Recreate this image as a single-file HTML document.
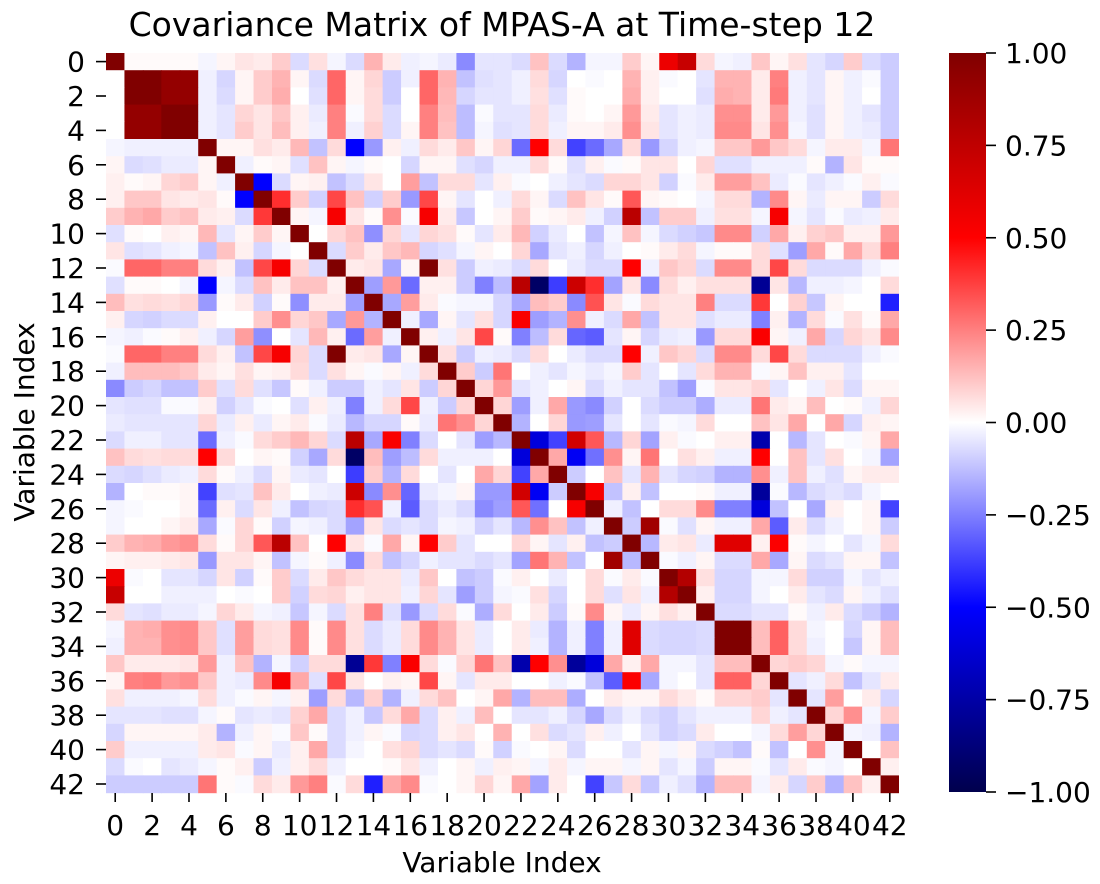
<!DOCTYPE html>
<html><head><meta charset="utf-8">
<style>
html,body{margin:0;padding:0;background:#fff;}
svg{display:block;font-family:"DejaVu Sans","Liberation Sans",sans-serif;}
</style></head>
<body>
<svg id="chart" width="1100" height="884" viewBox="0 0 1100 884" xmlns="http://www.w3.org/2000/svg">
<defs>
<linearGradient id="seis" x1="0" y1="1" x2="0" y2="0">
<stop offset="0" stop-color="rgb(0,0,77)"/>
<stop offset="0.25" stop-color="rgb(0,0,255)"/>
<stop offset="0.5" stop-color="rgb(255,255,255)"/>
<stop offset="0.75" stop-color="rgb(255,0,0)"/>
<stop offset="1" stop-color="rgb(128,0,0)"/>
</linearGradient>
</defs>
<text x="502" y="36" font-size="33" text-anchor="middle">Covariance Matrix of MPAS-A at Time-step 12</text>
<g id="cells"></g>
<g id="yticks"></g>
<g id="xticks"></g>
<text x="502" y="872" font-size="28" text-anchor="middle">Variable Index</text>
<text x="0" y="0" font-size="28" text-anchor="middle" transform="translate(34,422) rotate(-90)">Variable Index</text>
<rect x="949" y="53" width="37" height="739" fill="url(#seis)"/>
<g id="cbticks"></g>
</svg>
<script>
// upper rows 0..21, all 43 columns
const upperRows = [
[1,0.01,0.01,0.01,0.01,-0.02,0.02,0.05,0.04,0.1,-0.07,0.06,-0.02,-0.07,0.15,0.04,-0.03,-0.02,-0.04,-0.23,-0.05,-0.05,-0.07,0.12,-0.07,-0.15,-0.02,-0.02,0.1,0.02,0.57,0.72,0.07,-0.02,-0.03,0.11,0.02,0.06,-0.05,-0.08,0.1,-0.07,-0.1],
[0,1,1,0.92,0.92,-0.03,-0.08,0.02,0.1,0.15,0.02,-0.07,0.3,0.02,0.08,-0.1,-0.03,0.3,0.15,-0.12,-0.06,-0.05,-0.03,0.07,-0.08,0,-0.01,0,0.15,0.03,-0.01,0,-0.05,0.15,0.15,0.04,0.25,-0.03,-0.05,0.02,-0.03,-0.01,-0.1],
[0,1,1,0.92,0.92,-0.03,-0.07,0.02,0.1,0.16,0,-0.06,0.3,0.02,0.07,-0.1,0,0.3,0.14,-0.08,-0.05,-0.05,-0.03,0.06,-0.06,0.01,0,0,0.16,0.03,0,0,-0.06,0.16,0.15,0.04,0.26,-0.03,-0.05,0.02,-0.03,0,-0.1],
[0,0.92,0.92,1,1,-0.03,-0.05,0.08,0.05,0.11,0.03,-0.04,0.25,-0.01,0.07,-0.07,0,0.25,0.13,-0.13,-0.01,-0.05,-0.05,0.07,-0.04,0.01,0,0.02,0.2,0.04,-0.05,-0.03,-0.04,0.22,0.22,0.04,0.2,-0.03,-0.06,0.02,-0.03,-0.05,-0.1],
[0,0.92,0.92,1,1,-0.03,-0.05,0.1,0.05,0.13,0.03,-0.03,0.25,-0.03,0.09,-0.07,0.02,0.25,0.12,-0.13,-0.02,-0.06,-0.05,0.07,-0.03,0.02,0.02,0.04,0.22,0.05,-0.05,-0.03,-0.04,0.23,0.23,0.05,0.22,-0.02,-0.06,0.02,-0.03,-0.04,-0.1],
[-0.02,-0.03,-0.03,-0.03,-0.03,1,0.02,0.02,0.06,0.04,0.14,-0.12,0.07,-0.5,-0.2,0.03,-0.03,0.07,0.04,0.11,0.02,0.08,-0.29,0.5,0.07,-0.37,-0.29,-0.17,0.07,-0.2,-0.08,-0.03,-0.02,0.11,0.11,0.2,0.11,0.07,-0.02,0.04,0.04,-0.02,0.27],
[0.02,-0.07,-0.06,-0.04,-0.04,0.02,1,-0.03,0.01,0.02,-0.06,0.12,0.02,-0.02,0.01,0,-0.08,0.02,0.02,-0.06,-0.08,-0.03,-0.03,0.07,0.01,-0.06,0.03,-0.01,0.01,0.05,0.05,0,0.08,-0.06,-0.06,-0.03,-0.03,-0.03,0.01,-0.15,0.05,0.01,0.01],
[0.03,0.01,0.02,0.08,0.1,0.02,-0.03,1,-0.5,-0.07,0.02,0.03,-0.12,-0.07,0.05,0,0.19,-0.12,0.07,0.07,-0.05,0.03,-0.01,0,-0.03,-0.05,-0.07,0.08,0.08,0.05,-0.09,-0.01,0.04,0.19,0.19,0.12,-0.04,-0.01,-0.05,-0.03,-0.01,0.03,-0.01],
[0.03,0.11,0.11,0.05,0.04,0.05,0.01,-0.5,1,0.41,0.1,-0.09,0.36,0.12,-0.09,0.1,-0.2,0.36,0.02,-0.05,0,-0.03,0.07,0.02,-0.07,0.12,0.05,0.01,0.33,0.02,0.01,0,-0.02,0.07,0.07,-0.15,0.23,0.02,-0.04,0.02,0.02,-0.1,0.07],
[0.1,0.15,0.17,0.1,0.12,0.04,0.03,-0.07,0.39,1,0.02,-0.02,0.53,0.05,0.01,0.22,-0.01,0.53,0.04,-0.11,0,0.02,0.1,0.01,0.02,0.04,-0.03,-0.09,0.77,-0.12,0.1,0.1,-0.03,0.06,0.06,-0.02,0.53,-0.02,-0.05,-0.01,-0.04,-0.03,0.04],
[-0.06,0.01,0,0.03,0.02,0.14,-0.05,0.02,0.1,0.02,1,0,0.08,0.12,-0.22,0.08,-0.05,0.08,0.06,0.01,-0.05,0.04,0.14,-0.09,-0.04,0,-0.12,-0.02,0.12,-0.02,-0.07,-0.09,-0.11,0.23,0.23,-0.09,0.17,0.03,0.09,0.11,0.03,0.03,0.2],
[0.05,-0.06,-0.05,-0.03,-0.02,-0.12,0.12,0.03,-0.08,-0.02,0,1,-0.07,0.1,0.04,0.11,0.14,-0.08,-0.06,-0.02,0.02,0,0.08,-0.17,-0.05,-0.03,-0.08,-0.03,0,0.01,0.04,0.07,-0.02,0.01,0.01,0.07,-0.06,-0.19,0.17,0.01,0.17,0.07,0.25],
[-0.01,0.3,0.3,0.25,0.25,0.07,0.03,-0.12,0.36,0.53,0.08,-0.07,1,0.04,0.05,-0.17,0.02,1,0.06,-0.1,-0.03,-0.04,-0.07,0.07,0,-0.04,-0.07,-0.07,0.5,-0.03,0.11,0.08,-0.07,0.23,0.23,0.07,0.36,0.07,-0.07,-0.07,-0.07,-0.03,-0.01],
[-0.06,0.01,0.01,0,-0.02,-0.5,-0.02,-0.07,0.12,0.04,0.12,0.12,0.03,1,-0.19,0.2,-0.29,0.03,0.03,-0.1,-0.25,-0.13,0.77,-0.93,-0.38,0.7,0.41,-0.18,0.05,-0.23,0.07,0.03,0.06,0.06,0.06,-0.8,0.05,-0.14,-0.03,-0.03,-0.02,0,0.07],
[0.13,0.06,0.07,0.06,0.08,-0.2,0.01,0.04,-0.09,0.01,-0.22,0.04,0.04,-0.19,1,-0.17,0.19,0.04,-0.01,-0.02,-0.02,-0.08,-0.17,0.13,0.1,-0.23,0.34,0.05,-0.01,0.07,0.05,0.05,0.25,-0.07,-0.07,0.39,0,0.09,-0.11,0.02,0,0,-0.44],
[0.03,-0.08,-0.09,-0.07,-0.07,0.03,0,0,0.1,0.22,0.08,0.11,-0.17,0.2,-0.15,1,-0.03,-0.17,0.02,-0.05,0.06,-0.08,0.52,-0.19,-0.15,0.22,-0.03,-0.07,0.17,-0.12,0.05,0.05,-0.06,-0.04,-0.04,-0.25,0.03,-0.15,0.07,-0.01,0.06,0.01,0.17],
[-0.02,-0.03,-0.01,0.01,0.03,-0.03,-0.08,0.19,-0.22,0,-0.05,0.14,0.03,-0.29,0.19,-0.03,1,0.03,-0.03,0.05,0.36,0.01,-0.25,-0.13,0.07,-0.3,-0.32,-0.05,0.02,-0.08,-0.04,-0.03,-0.2,0.07,0.07,0.52,0.02,-0.03,0.17,-0.08,0.08,0.05,0.23],
[-0.01,0.3,0.3,0.25,0.25,0.07,0.03,-0.12,0.36,0.53,0.08,-0.07,1,0.04,0.05,-0.17,0.02,1,0.06,-0.1,-0.03,-0.04,-0.07,0.07,0,-0.04,-0.07,-0.07,0.5,-0.03,0.11,0.08,-0.07,0.23,0.23,0.07,0.36,0.07,-0.07,-0.07,-0.07,-0.03,-0.01],
[-0.03,0.13,0.13,0.13,0.11,0.04,0.02,0.06,0.02,0.03,0.07,-0.07,0.06,0.02,-0.01,0.02,-0.03,0.07,1,0.1,-0.1,0.27,0,-0.03,-0.05,-0.02,-0.04,-0.02,0.1,-0.05,0,-0.05,0.07,0.15,0.15,-0.01,0.02,0.12,0.03,0.03,-0.05,0,0],
[-0.23,-0.1,-0.08,-0.12,-0.12,0.1,-0.06,0.07,-0.06,-0.11,0.01,-0.03,-0.1,-0.1,-0.03,-0.05,0.05,-0.1,0.08,1,0.08,0.2,-0.05,-0.03,0,0.02,-0.07,-0.03,-0.05,-0.05,-0.12,-0.19,-0.01,0.05,0.05,0.08,-0.05,0,-0.03,0.05,-0.07,0.02,0.02],
[-0.05,-0.06,-0.06,-0.01,-0.01,0.03,-0.09,-0.05,-0.01,0,-0.06,0.03,-0.03,-0.25,-0.03,0.07,0.36,-0.03,-0.1,0.08,1,0.08,-0.19,-0.03,0.17,-0.2,-0.23,-0.09,0,-0.07,-0.1,-0.1,-0.16,-0.04,-0.04,0.27,0.04,0.02,0.13,0,0.01,-0.03,0.08],
[-0.04,-0.05,-0.05,-0.05,-0.05,0.08,-0.04,0.03,-0.04,0.02,0.04,-0.01,-0.04,-0.14,-0.08,-0.08,0.01,-0.04,0.27,0.22,0.08,1,-0.15,0,0.08,-0.2,-0.19,-0.05,0,-0.05,-0.01,-0.02,0.07,0,0,0.12,0.05,0.17,0,0.17,-0.08,0.03,0.02]
];
// lower rows 22..42, columns 21..42 (columns 0..20 mirror the upper rows)
const lowerRows = [
[-0.14,1,-0.6,-0.37,0.68,0.33,-0.14,0.08,-0.18,0.03,-0.01,0,0.03,0.03,-0.73,0,-0.14,-0.05,0,-0.01,0.02,0.17],
[0,-0.6,1,0.17,-0.53,-0.28,0.22,0.02,0.27,0,0.06,0.03,-0.03,-0.03,0.5,0,0.12,-0.05,0.06,0,-0.02,-0.18],
[0.08,-0.37,0.17,1,-0.1,0,0.12,-0.05,0.15,-0.05,-0.08,-0.09,-0.15,-0.15,0.22,-0.03,0.12,-0.03,-0.06,0.02,0.04,0.04],
[-0.2,0.68,-0.53,-0.1,1,0.53,-0.12,0.03,-0.12,0,0,0.01,-0.03,-0.03,-0.78,-0.01,-0.14,-0.07,-0.05,-0.07,-0.02,0],
[-0.19,0.33,-0.28,0,0.53,1,-0.03,-0.12,0,0.07,0.07,0.23,-0.25,-0.25,-0.6,-0.12,0,-0.17,0.03,0,0.02,-0.37],
[-0.05,-0.14,0.22,0.12,-0.12,-0.03,1,-0.1,0.87,-0.01,-0.06,0.02,-0.03,-0.03,0.17,-0.32,0.04,-0.07,-0.03,0,0.02,-0.1],
[0,0.08,0.02,-0.05,0.03,-0.12,-0.1,1,-0.14,0.04,0.05,-0.04,0.62,0.62,0.03,0.51,0.01,-0.02,0,-0.05,-0.02,0.07],
[-0.05,-0.18,0.27,0.15,-0.12,0,0.87,-0.14,1,-0.01,-0.03,0.02,-0.07,-0.07,0.17,-0.17,0.02,-0.07,-0.05,0.02,0.02,-0.12],
[-0.01,0.03,0,-0.04,0,0.07,-0.01,0.04,-0.01,1,0.8,0.06,-0.08,-0.08,-0.02,-0.02,0.07,-0.09,-0.09,-0.02,-0.05,-0.03],
[-0.02,-0.01,0.06,-0.08,0,0.07,-0.06,0.05,-0.03,0.8,1,0.03,-0.08,-0.08,-0.02,0,0.04,-0.05,-0.07,0.02,-0.03,-0.06],
[0.07,0,0.04,-0.1,0.01,0.23,0.02,-0.04,0.02,0.06,0.03,1,-0.07,-0.07,-0.05,-0.05,0.01,-0.03,0.04,-0.07,-0.1,-0.15],
[0,0.04,-0.04,-0.15,-0.03,-0.25,-0.03,0.62,-0.07,-0.08,-0.08,-0.07,1,1,0.13,0.31,0.07,-0.02,0,-0.08,0.02,0.13],
[0,0.04,-0.03,-0.15,-0.03,-0.25,-0.03,0.62,-0.07,-0.08,-0.08,-0.07,1,1,0.13,0.31,0.07,-0.03,0,-0.11,0.02,0.13],
[0.12,-0.73,0.5,0.22,-0.78,-0.6,0.17,0.03,0.17,-0.02,-0.02,-0.05,0.13,0.13,1,0.08,0.1,0.08,-0.02,0.01,-0.02,-0.02],
[0.04,0,0,-0.03,-0.01,-0.12,-0.32,0.51,-0.17,-0.02,0,-0.05,0.31,0.31,0.08,1,-0.05,-0.03,0.07,-0.12,-0.05,0.04],
[0.17,-0.15,0.13,0.13,-0.16,0,0.04,0.02,0.02,0.07,0.04,0.01,0.08,0.08,0.1,-0.05,1,-0.05,0.19,0,0.04,-0.08],
[0,-0.05,-0.05,-0.03,-0.08,-0.17,-0.07,-0.03,-0.07,-0.09,-0.05,-0.03,-0.03,-0.03,0.08,-0.03,-0.05,1,0.08,0.22,-0.02,0.1],
[0.15,0,0.06,-0.07,-0.05,0.03,-0.03,0,-0.05,-0.09,-0.07,0.04,0,0,-0.02,0.07,0.19,0.08,1,-0.02,-0.03,-0.15],
[-0.09,-0.01,0,0.02,-0.07,0,0,-0.05,0.02,-0.02,0.02,-0.07,-0.09,-0.12,0.01,-0.12,0,0.22,-0.02,1,0,0.12],
[0.03,0.02,-0.02,0.04,-0.02,0.02,0.02,-0.02,0.02,-0.05,-0.02,-0.1,0.02,0.02,-0.01,-0.05,0.04,-0.01,-0.02,0,1,0.03],
[0.02,0.17,-0.18,0.04,0,-0.37,-0.11,0.07,-0.11,-0.03,-0.06,-0.15,0.13,0.13,-0.02,0.04,-0.08,0.1,-0.15,0.12,0.03,1]
];
const axisTickLabels = ["0","2","4","6","8","10","12","14","16","18","20","22","24","26","28","30","32","34","36","38","40","42"];
const colorbarTicks = [1.0, 0.75, 0.5, 0.25, 0.0, -0.25, -0.5, -0.75, -1.0];

const N = 43;
const X0 = 106, X1 = 899, Y0 = 53, Y1 = 792.6;
const cw = (X1 - X0) / N, ch = (Y1 - Y0) / N;
const xPos = i => X0 + i * cw;
const yPos = i => Y0 + i * ch;
const cbY = v => 53 + (1 - v) / 2 * (792 - 53);

function valueAt(r, c) {
  if (r < upperRows.length) return upperRows[r][c];
  if (c >= 21) return lowerRows[r - 22][c - 21];
  return upperRows[c][r];
}
function seismic(v) {
  v = Math.max(-1, Math.min(1, v));
  const t = (v + 1) / 2;
  let r, g, b;
  if (t < 0.25) { const u = t / 0.25; r = 0; g = 0; b = 0.3 + 0.7 * u; }
  else if (t < 0.5) { const u = (t - 0.25) / 0.25; r = u; g = u; b = 1; }
  else if (t < 0.75) { const u = (t - 0.5) / 0.25; r = 1; g = 1 - u; b = 1 - u; }
  else { const u = (t - 0.75) / 0.25; r = 1 - 0.5 * u; g = 0; b = 0; }
  return `rgb(${Math.round(r*255)},${Math.round(g*255)},${Math.round(b*255)})`;
}
const NS = "http://www.w3.org/2000/svg";
const cells = document.getElementById("cells");
for (let r = 0; r < N; r++) {
  for (let c = 0; c < N; c++) {
    const el = document.createElementNS(NS, "rect");
    el.setAttribute("x", xPos(c).toFixed(2));
    el.setAttribute("y", yPos(r).toFixed(2));
    el.setAttribute("width", (cw + 0.6).toFixed(2));
    el.setAttribute("height", (ch + 0.6).toFixed(2));
    el.setAttribute("fill", seismic(valueAt(r, c)));
    
    
    cells.appendChild(el);
  }
}
const cover = document.createElementNS(NS, "rect");
cover.setAttribute("x", X1); cover.setAttribute("y", Y0); cover.setAttribute("width", 2); cover.setAttribute("height", Y1 - Y0 + 2); cover.setAttribute("fill", "#fff");
cells.appendChild(cover);

const yt = document.getElementById("yticks");
const xt = document.getElementById("xticks");
axisTickLabels.forEach((lab) => {
  const idx = parseInt(lab, 10);
  const cy = yPos(idx) + ch / 2;
  const cx = xPos(idx) + cw / 2;
  const l1 = document.createElementNS(NS, "line");
  l1.setAttribute("x1", 96); l1.setAttribute("x2", 106); l1.setAttribute("y1", cy); l1.setAttribute("y2", cy);
  l1.setAttribute("stroke", "#000"); l1.setAttribute("stroke-width", "1.6");
  
  
  yt.appendChild(l1);
  const t1 = document.createElementNS(NS, "text");
  t1.setAttribute("x", 85); t1.setAttribute("y", cy + 10); t1.setAttribute("font-size", "28"); t1.setAttribute("text-anchor", "end");
  t1.textContent = lab;
  
  
  yt.appendChild(t1);
  const l2 = document.createElementNS(NS, "line");
  l2.setAttribute("x1", cx); l2.setAttribute("x2", cx); l2.setAttribute("y1", 793); l2.setAttribute("y2", 802);
  l2.setAttribute("stroke", "#000"); l2.setAttribute("stroke-width", "1.6");
  
  
  xt.appendChild(l2);
  const t2 = document.createElementNS(NS, "text");
  t2.setAttribute("x", cx); t2.setAttribute("y", 835); t2.setAttribute("font-size", "28"); t2.setAttribute("text-anchor", "middle");
  t2.textContent = lab;
  
  
  xt.appendChild(t2);
});

const cb = document.getElementById("cbticks");
colorbarTicks.forEach(v => {
  const y = cbY(v);
  const l = document.createElementNS(NS, "line");
  l.setAttribute("x1", 986); l.setAttribute("x2", 996); l.setAttribute("y1", y); l.setAttribute("y2", y);
  l.setAttribute("stroke", "#000"); l.setAttribute("stroke-width", "1.6");
  
  
  cb.appendChild(l);
  const t = document.createElementNS(NS, "text");
  t.setAttribute("x", 1005); t.setAttribute("y", y + 10); t.setAttribute("font-size", "28");
  t.textContent = (v < 0 ? "\u2212" : "") + Math.abs(v).toFixed(2);
  
  
  cb.appendChild(t);
});
</script>
</body></html>
